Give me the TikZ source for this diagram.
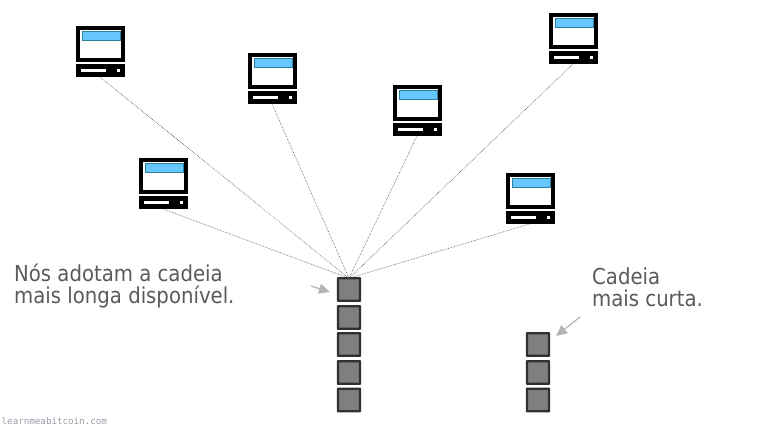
\documentclass[tikz,border=0pt]{standalone}
\usepackage{fontspec}
\setmainfont{DejaVu Sans}
\newfontfamily\wmfont{DejaVu Sans Mono}
\newfontfamily\notefont[FakeStretch=0.895]{DejaVu Sans}
\definecolor{txtgrey}{HTML}{5A5A5A}
\definecolor{scr}{HTML}{66C7FF}
\definecolor{scredge}{HTML}{2F7F9F}
\definecolor{blockfill}{HTML}{7F7F7F}
\definecolor{blockedge}{HTML}{303030}
\definecolor{arrowgrey}{HTML}{B3B3B3}
\definecolor{wm}{HTML}{9A9AA8}
\usetikzlibrary{arrows.meta}
\tikzset{
  x=1pt,y=-1pt,
  block/.style={draw=blockedge,fill=blockfill,line width=2.4pt,rounded corners=0.3pt,minimum width=22pt,minimum height=22.5pt,inner sep=0pt,outer sep=0pt},
  link/.style={draw=black!70,line width=0.6pt,densely dotted},
  note/.style={text=txtgrey,font=\notefont\fontsize{22}{22}\selectfont,align=left,inner sep=0pt,anchor=north west},
  noteline/.style={draw=arrowgrey,line width=1.2pt,-{Triangle[length=11pt,width=10pt]}},
  computer/.pic={
    \fill[black] (0,0) rectangle (48.5,36.5);
    \fill[white] (4,4) rectangle (44.5,32.5);
    \fill[scr,draw=scredge,line width=0.7pt] (6.3,5.5) rectangle (44,14);
    \fill[black] (0,38.5) rectangle (48.5,51);
    \fill[white] (5,43) rectangle (30,46);
    \fill[white] (41,43) rectangle (44,46);
  }
}
\begin{document}
\begin{tikzpicture}
\useasboundingbox (0,0) rectangle (779,427);
\coordinate (c1) at (100,77);
\coordinate (c2) at (272,104);
\coordinate (c3) at (417,136);
\coordinate (c4) at (573,64);
\coordinate (c5) at (163,209);
\coordinate (c6) at (533,223);
\node[block] (a1) at (349,289.5) {};
\node[block] (a2) at (349,317.5) {};
\node[block] (a3) at (349,344.5) {};
\node[block] (a4) at (349,372.5) {};
\node[block] (a5) at (349,400) {};
\node[block] (b1) at (538,344.5) {};
\node[block] (b2) at (538,372.5) {};
\node[block] (b3) at (538,400) {};
\foreach \c in {c1,c2,c3,c4,c5,c6}{\draw[link] (\c) -- (a1.north);}
\pic at (76,26) {computer};
\pic at (248,53) {computer};
\pic at (393,85) {computer};
\pic at (549,13) {computer};
\pic at (139,158) {computer};
\pic at (506,173) {computer};
\node[note] (n1) at (14,263.5) {Nós adotam a cadeia\\mais longa disponível.};
\node[note] (n2) at (592,268) {Cadeia\\mais curta.};
\coordinate (s1) at (311,286);
\coordinate (e1) at (330,292);
\coordinate (s2) at (580,317);
\coordinate (e2) at (556,336);
\draw[noteline] (s1) -- (e1);
\draw[noteline] (s2) -- (e2);
\node[text=wm,font=\wmfont\fontsize{9.2}{10}\selectfont,inner sep=0pt,anchor=west] (w) at (1.5,421.5) {learnmeabitcoin.com};
\end{tikzpicture}
\end{document}
